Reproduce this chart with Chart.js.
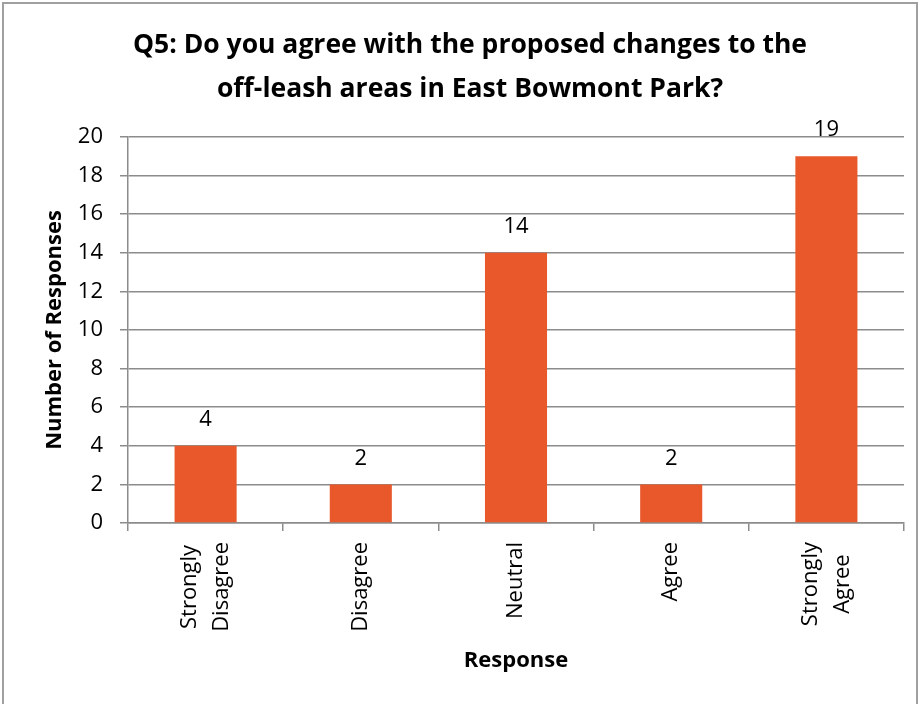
<!DOCTYPE html>
<html>
<head>
<meta charset="utf-8">
<script src="https://cdn.jsdelivr.net/npm/chart.js@4/dist/chart.umd.min.js"></script>
<style>
  html, body { margin: 0; padding: 0; background: #fff; }
  canvas { display: block; }
</style>
</head>
<body>
<canvas id="chart" width="920" height="704"></canvas>
<script>
// chart data
const categories = [['Strongly', 'Disagree'], ['Disagree'], ['Neutral'], ['Agree'], ['Strongly', 'Agree']];
const responses = [4, 2, 14, 2, 19];
const titleLines = ['Q5: Do you agree with the proposed changes to the', 'off-leash areas in East Bowmont Park?'];

const FONT = '"Open Sans", Lato, sans-serif';
const GRID = '#8c8c8c';

// frame around the whole picture + white background
const framePlugin = {
    id: 'frame',
    beforeDraw(chart) {
        const ctx = chart.ctx;
        ctx.save();
        ctx.fillStyle = '#fff';
        ctx.fillRect(0, 0, chart.width, chart.height);
        ctx.strokeStyle = '#a0a0a0';
        ctx.lineWidth = 2;
        ctx.strokeRect(3, 3, chart.width - 6, chart.height + 20);
        ctx.restore();
    }
};

// numbers above the bars
const valueLabels = {
    id: 'valueLabels',
    afterDatasetsDraw(chart) {
        const ctx = chart.ctx;
        const meta = chart.getDatasetMeta(0);
        ctx.save();
        ctx.font = '22px ' + FONT;
        ctx.fillStyle = '#000';
        ctx.textAlign = 'center';
        ctx.textBaseline = 'middle';
        meta.data.forEach((bar, i) => {
            ctx.fillText(String(responses[i]), bar.x, bar.y - 26);
        });
        ctx.restore();
    }
};

// rotated category labels, lines centred on each other
const categoryLabels = {
    id: 'categoryLabels',
    afterDraw(chart) {
        const ctx = chart.ctx;
        const xScale = chart.scales.x;
        const top = xScale.top + 19;
        const spacing = 32;
        ctx.save();
        ctx.font = '22px ' + FONT;
        ctx.fillStyle = '#000';
        ctx.textAlign = 'center';
        ctx.textBaseline = 'middle';
        categories.forEach((lines, i) => {
            const x = xScale.getPixelForValue(i);
            const w = Math.max(...lines.map(l => ctx.measureText(l).width));
            ctx.save();
            ctx.translate(x, top);
            ctx.rotate(-Math.PI / 2);
            lines.forEach((line, j) => {
                ctx.fillText(line, -w / 2, (j - (lines.length - 1) / 2) * spacing);
            });
            ctx.restore();
        });
        ctx.restore();
    }
};

new Chart(document.getElementById('chart'), {
    type: 'bar',
    data: {
        labels: categories.map(c => c.join(' ')),
        datasets: [{
            data: responses,
            backgroundColor: '#E8582B',
            borderWidth: 0,
            barPercentage: 0.4,
            categoryPercentage: 1.0
        }]
    },
    options: {
        responsive: false,
        devicePixelRatio: 1,
        animation: false,
        layout: { padding: { top: 0, right: 16, bottom: 0, left: 36 } },
        plugins: {
            legend: { display: false },
            tooltip: { enabled: false },
            title: {
                display: true,
                text: titleLines,
                color: '#000',
                font: { family: FONT, size: 26.5, weight: 'bold', lineHeight: 1.64 },
                padding: { top: 24, bottom: 26 }
            }
        },
        scales: {
            x: {
                grid: {
                    display: true,
                    drawOnChartArea: false,
                    drawTicks: true,
                    tickLength: 8,
                    color: GRID,
                    lineWidth: 1.5
                },
                border: { color: GRID, width: 1.5 },
                ticks: { display: false },
                title: {
                    display: true,
                    text: 'Response',
                    color: '#000',
                    font: { family: FONT, size: 22, weight: 'bold' },
                    padding: { top: 0, bottom: 30 }
                },
                afterFit(scale) { scale.height = 181; }
            },
            y: {
                min: 0,
                max: 20,
                grid: {
                    color: GRID,
                    lineWidth: 1.5,
                    tickLength: 8
                },
                border: { color: GRID, width: 1.5 },
                ticks: {
                    stepSize: 2,
                    color: '#000',
                    padding: 17,
                    font: { family: FONT, size: 22 }
                },
                title: {
                    display: true,
                    text: 'Number of Responses',
                    color: '#000',
                    font: { family: FONT, size: 22, weight: 'bold' },
                    padding: { top: 6, bottom: 0 }
                },
                afterFit(scale) { scale.width = 92; }
            }
        }
    },
    plugins: [framePlugin, valueLabels, categoryLabels]
});
</script>
</body>
</html>
